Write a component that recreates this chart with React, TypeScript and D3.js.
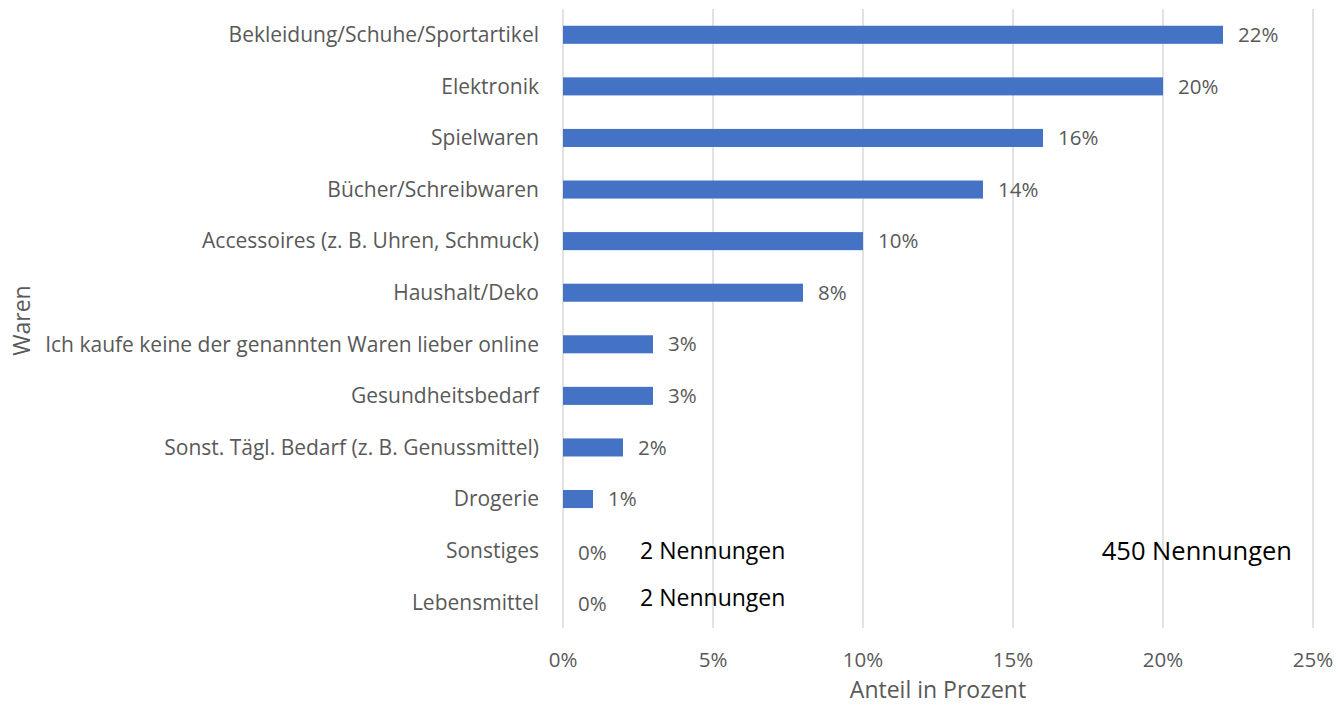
import React from "react";
import * as d3 from "d3";

const categories = [
  "Bekleidung/Schuhe/Sportartikel",
  "Elektronik",
  "Spielwaren",
  "Bücher/Schreibwaren",
  "Accessoires (z. B. Uhren, Schmuck)",
  "Haushalt/Deko",
  "Ich kaufe keine der genannten Waren lieber online",
  "Gesundheitsbedarf",
  "Sonst. Tägl. Bedarf (z. B. Genussmittel)",
  "Drogerie",
  "Sonstiges",
  "Lebensmittel",
];
const values = [22, 20, 16, 14, 10, 8, 3, 3, 2, 1, 0, 0];
const xTicks = [0, 5, 10, 15, 20, 25];
const notes = [
  { category: "Sonstiges", text: "2 Nennungen", at: 2.57 },
  { category: "Lebensmittel", text: "2 Nennungen", at: 2.57 },
];
const totalNote = "450 Nennungen";

const W = 1339;
const H = 710;
const M = { left: 563, right: 26, top: 9, bottom: 82 };
const FONT = "'Open Sans', sans-serif";
const GRAY = "#595959";

export default function App() {
  const x = d3.scaleLinear().domain([0, 25]).range([M.left, W - M.right]);
  const y = d3
    .scaleBand<string>()
    .domain(categories)
    .range([M.top, H - M.bottom])
    .paddingInner(0.65)
    .paddingOuter(0.325);
  const center = (c: string) => (y(c) as number) + y.bandwidth() / 2;

  return (
    <svg
      width={W}
      height={H}
      style={{ position: "absolute", left: 0, top: 0, background: "#fff" }}
      fontFamily={FONT}
    >
      {xTicks.map((t) => (
        <g key={t}>
          <line
            x1={x(t)}
            x2={x(t)}
            y1={M.top}
            y2={H - M.bottom}
            stroke="#d9d9d9"
            strokeWidth={1.5}
          />
          <text
            x={x(t)}
            y={H - M.bottom + 39}
            textAnchor="middle"
            fontSize={20.5}
            fill={GRAY}
          >
            {t}%
          </text>
        </g>
      ))}
      {categories.map((c, i) => (
        <g key={c}>
          <text
            x={M.left - 24}
            y={center(c)}
            dy="0.35em"
            textAnchor="end"
            fontSize={21}
            fill={GRAY}
          >
            {c}
          </text>
          {values[i] > 0 && (
            <rect
              x={x(0)}
              y={y(c)}
              width={x(values[i]) - x(0)}
              height={y.bandwidth()}
              fill="#4472c4"
            />
          )}
          <text
            x={x(values[i]) + 15}
            y={center(c) + (values[i] === 0 ? 2 : 0)}
            dy="0.35em"
            fontSize={20.5}
            fill={GRAY}
          >
            {values[i]}%
          </text>
        </g>
      ))}
      {notes.map((n, i) => (
        <text
          key={i}
          x={x(n.at)}
          y={center(n.category) - (i === 1 ? 4 : 0)}
          dy="0.35em"
          fontSize={23}
          fill="#000"
        >
          {n.text}
        </text>
      ))}
      <text
        x={W - 47}
        y={center("Sonstiges")}
        dy="0.35em"
        textAnchor="end"
        fontSize={25.5}
        fill="#000"
      >
        {totalNote}
      </text>
      <text
        x={(x(0) + x(25)) / 2}
        y={H - 12}
        textAnchor="middle"
        fontSize={23}
        fill={GRAY}
      >
        Anteil in Prozent
      </text>
      <text
        transform={`translate(30, ${(M.top + H - M.bottom) / 2 + 2}) rotate(-90)`}
        textAnchor="middle"
        fontSize={23}
        fill={GRAY}
      >
        Waren
      </text>
    </svg>
  );
}
